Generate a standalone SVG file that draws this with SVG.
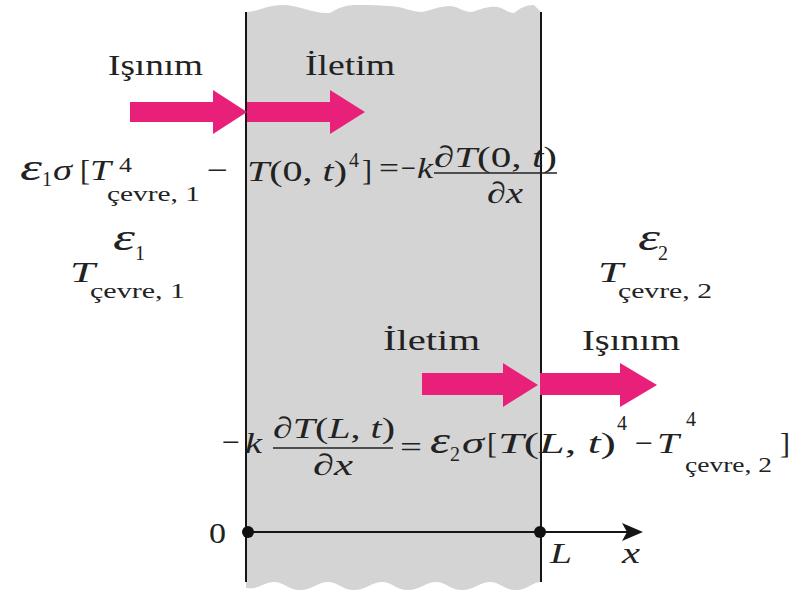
<svg xmlns="http://www.w3.org/2000/svg" width="807" height="593" viewBox="0 0 807 593">
<style>
text{font-family:"Liberation Serif","Times New Roman",serif;fill:#222;font-size:30px}
.i{font-style:italic}
.e{font-style:italic;font-size:38px}
.s{font-size:20px}
.sub{font-size:22px}
.arr{fill:#E8207A}
.wall{stroke:#151515;stroke-width:2}
.bar{stroke:#222;stroke-width:1.3}
</style>
<rect width="807" height="593" fill="#ffffff"/>
<g id="slab">
<path d="M246,12 C258,12 266,5 282,5 C300,5 312,14 330,13 C338,8 345,5 356,5 C368,5 376,5 390,6 C404,7 412,12 422,12 C432,10 440,6 450,6 C460,7 462,12 472,12 C482,9 488,6 498,7 C505,9 508,13 514,13 C520,8 526,5 534,5 L541,12 L541,582 C532,582 528,590 516,590 C504,590 500,582 490,582 C480,582 474,590 462,590 C450,590 446,582 436,582 C426,582 420,590 408,590 C396,590 392,582 382,582 C372,582 366,590 354,590 C342,590 338,582 328,582 C318,582 312,590 300,590 C288,590 284,582 274,582 C264,582 258,590 246,588 Z" fill="#d4d4d4"/>
<line class="wall" x1="246" y1="12" x2="246" y2="582"/>
<line class="wall" x1="541" y1="12" x2="541" y2="582"/>
</g>
<g id="connectors">
<polygon class="arr" points="130,102 213,102 213,90 247,112 213,134 213,122 130,122"/>
<polygon class="arr" points="247,102 330,102 330,90 365,112 330,134 330,122 247,122"/>
<polygon class="arr" points="422,373 503,373 503,363 538,385 503,407 503,395 422,395"/>
<polygon class="arr" points="540,373 620,373 620,363 657,385 620,407 620,395 540,395"/>
</g>
<g id="label-isinim-1"><text x="108" y="75" textLength="95" lengthAdjust="spacingAndGlyphs">Işınım</text></g>
<g id="label-iletim-1"><text x="305" y="75" textLength="90" lengthAdjust="spacingAndGlyphs">İletim</text></g>
<g id="label-iletim-2"><text x="383" y="350" textLength="97" lengthAdjust="spacingAndGlyphs">İletim</text></g>
<g id="label-isinim-2"><text x="582" y="350" textLength="98" lengthAdjust="spacingAndGlyphs">Işınım</text></g>
<g id="equation-1">
<text class="e" x="20" y="180" textLength="22" lengthAdjust="spacingAndGlyphs">ε</text>
<text class="s" x="42" y="186">1</text>
<text class="i" x="53" y="180" textLength="19" lengthAdjust="spacingAndGlyphs">σ</text>
<text x="80" y="180">[</text>
<text class="i" x="90" y="180" textLength="21" lengthAdjust="spacingAndGlyphs">T</text>
<text class="s" x="119" y="172" textLength="13" lengthAdjust="spacingAndGlyphs">4</text>
<text class="sub" x="107" y="201" textLength="93" lengthAdjust="spacingAndGlyphs">çevre, 1</text>
<text x="207" y="180" textLength="21" lengthAdjust="spacingAndGlyphs">−</text>
<text x="247" y="181" textLength="100" lengthAdjust="spacingAndGlyphs"><tspan class="i">T</tspan>(0, <tspan class="i">t</tspan>)</text>
<text class="s" x="349" y="167">4</text>
<text x="362" y="180">]</text>
<text x="379" y="178" textLength="20" lengthAdjust="spacingAndGlyphs">=</text>
<text x="401" y="178" textLength="15" lengthAdjust="spacingAndGlyphs">−</text>
<text class="i" x="417" y="178" textLength="16" lengthAdjust="spacingAndGlyphs">k</text>
<text x="434" y="167" textLength="123" lengthAdjust="spacingAndGlyphs"><tspan class="i">∂T</tspan>(0, <tspan class="i">t</tspan>)</text>
<line class="bar" x1="434" y1="173" x2="557" y2="173"/>
<text class="i" x="487" y="203" textLength="36" lengthAdjust="spacingAndGlyphs">∂x</text>
</g>
<g id="surface-1">
<text class="e" x="113" y="250" textLength="22" lengthAdjust="spacingAndGlyphs">ε</text>
<text class="s" x="135" y="260">1</text>
<text class="i" x="70" y="282" textLength="25" lengthAdjust="spacingAndGlyphs">T</text>
<text class="sub" x="90" y="298" textLength="95" lengthAdjust="spacingAndGlyphs">çevre, 1</text>
</g>
<g id="surface-2">
<text class="e" x="638" y="250" textLength="22" lengthAdjust="spacingAndGlyphs">ε</text>
<text class="s" x="658" y="260">2</text>
<text class="i" x="598" y="282" textLength="25" lengthAdjust="spacingAndGlyphs">T</text>
<text class="sub" x="618" y="298" textLength="94" lengthAdjust="spacingAndGlyphs">çevre, 2</text>
</g>
<g id="equation-2">
<text x="222" y="452" textLength="18" lengthAdjust="spacingAndGlyphs">−</text>
<text class="i" x="245" y="453" textLength="17" lengthAdjust="spacingAndGlyphs">k</text>
<text x="273" y="438" textLength="122" lengthAdjust="spacingAndGlyphs"><tspan class="i">∂T</tspan>(<tspan class="i">L</tspan>, <tspan class="i">t</tspan>)</text>
<line class="bar" x1="273" y1="448" x2="393" y2="448"/>
<text class="i" x="313" y="475" textLength="40" lengthAdjust="spacingAndGlyphs">∂x</text>
<text x="400" y="457" textLength="22" lengthAdjust="spacingAndGlyphs">=</text>
<text class="e" x="430" y="453" textLength="20" lengthAdjust="spacingAndGlyphs">ε</text>
<text class="s" x="450" y="461">2</text>
<text class="i" x="462" y="453" textLength="22" lengthAdjust="spacingAndGlyphs">σ</text>
<text x="487" y="453">[</text>
<text x="498" y="453" textLength="118" lengthAdjust="spacingAndGlyphs"><tspan class="i">T</tspan>(<tspan class="i">L</tspan>, <tspan class="i">t</tspan>)</text>
<text class="s" x="617" y="430">4</text>
<text x="635" y="453" textLength="18" lengthAdjust="spacingAndGlyphs">−</text>
<text class="i" x="657" y="453" textLength="22" lengthAdjust="spacingAndGlyphs">T</text>
<text class="s" x="686" y="426">4</text>
<text class="sub" x="685" y="472" textLength="87" lengthAdjust="spacingAndGlyphs">çevre, 2</text>
<text x="780" y="453">]</text>
</g>
<g id="axis">
<line x1="248" y1="532" x2="630" y2="532" stroke="#151515" stroke-width="2"/>
<polygon points="622,523 643,532 622,541 627,532" fill="#151515"/>
<circle cx="248" cy="532" r="6" fill="#111"/>
<circle cx="540" cy="532" r="6" fill="#111"/>
<text x="209" y="543" font-size="31" textLength="17" lengthAdjust="spacingAndGlyphs">0</text>
<text class="i" x="550" y="563" textLength="22" lengthAdjust="spacingAndGlyphs">L</text>
<text class="i" x="622" y="563" textLength="18" lengthAdjust="spacingAndGlyphs">x</text>
</g>
</svg>
